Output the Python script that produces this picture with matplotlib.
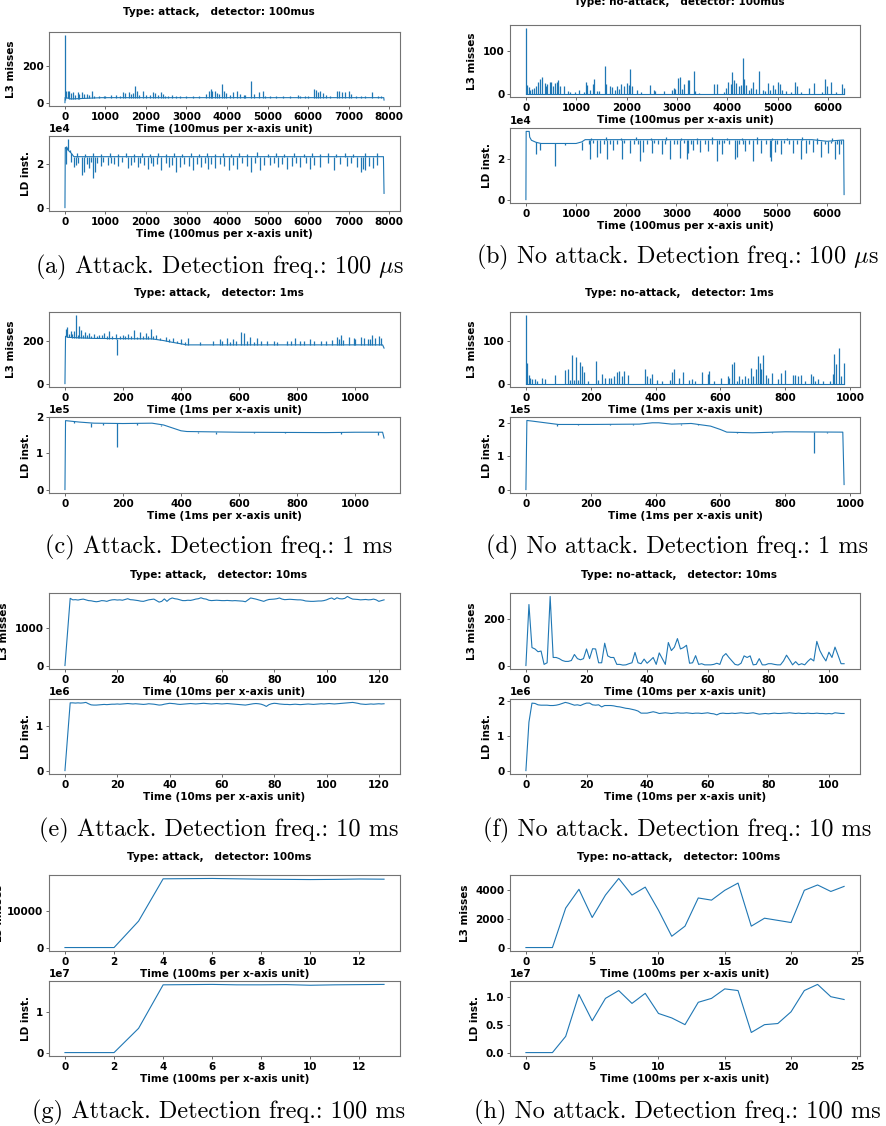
import numpy as np
import matplotlib
matplotlib.use('Agg')
import matplotlib.pyplot as plt

plt.rcParams['font.family'] = 'DejaVu Sans'
plt.rcParams['font.weight'] = 'bold'
plt.rcParams['axes.labelweight'] = 'bold'
plt.rcParams['font.size'] = 7.5
plt.rcParams['mathtext.fontset'] = 'cm'

BLUE = '#1f77b4'
W, H = 886, 1126

# ---------------- data ----------------
# (a) attack, 100mus : baseline breakpoints + spikes
a_l3_base_x = [0, 4, 150, 900, 7870, 7877]
a_l3_base_y = [0, 28, 20, 27, 27, 14]
a_l3_spk_x = [2, 25, 66, 107, 148, 206, 255, 313, 354, 420, 478, 544, 602, 667, 725, 849, 972, 1137,
              1261, 1426, 1491, 1590, 1632, 1673, 1730, 1772, 1821, 1920, 2002, 2184, 2233, 2291, 2373,
              2414, 2480, 2637, 2744, 2991, 3172, 3486, 3551, 3593, 3634, 3692, 3749, 3815, 3873, 3930,
              3980, 4062, 4145, 4252, 4310, 4408, 4598, 4656, 4787, 4886, 5051, 5381, 5751, 5916, 6147,
              6188, 6246, 6304, 6370, 6435, 6534, 6716, 6765, 6847, 6905, 7012, 7070, 7194, 7400, 7589,
              7729, 1000, 1350, 2100, 2550, 2850, 3300, 4450, 4950, 5200, 5550, 5800, 6000, 7300, 7800]
a_l3_spk_y = [365, 65, 61, 61, 53, 56, 44, 60, 49, 60, 47, 47, 44, 63, 35, 35, 35, 39,
              44, 56, 53, 56, 49, 53, 88, 61, 44, 61, 39, 56, 53, 44, 56,
              47, 35, 44, 35, 35, 35, 49, 65, 74, 61, 61, 53, 49, 100, 61,
              53, 44, 56, 63, 47, 44, 118, 47, 56, 61, 35, 35, 44, 35, 75,
              70, 56, 61, 53, 44, 35, 61, 61, 58, 58, 63, 47, 35, 35, 58,
              35, 38, 36, 40, 38, 36, 38, 40, 37, 38, 36, 38, 37, 38, 36]

a_ld_base_x = [0, 8, 150, 220, 7860, 7875]
a_ld_base_y = [0, 27500, 25000, 23300, 23300, 6500]
a_ld_spk_x = [20, 50, 80, 120, 30, 150, 230, 280, 330, 420, 480, 540, 600, 650, 690, 750, 800, 880,
              950, 1050, 1130, 1200, 1300, 1400, 1550, 1620, 1700, 1800, 1850, 1950, 2050, 2130, 2180,
              2260, 2380, 2500, 2580, 2650, 2750, 2850, 2950, 3050, 3150, 3250, 3350, 3450, 3520, 3600,
              3700, 3820, 3920, 4050, 4150, 4250, 4380, 4500, 4600, 4700, 4820, 4900, 5050, 5150, 5250,
              5350, 5480, 5600, 5700, 5800, 5950, 6050, 6150, 6300, 6500, 6650, 6800, 6950, 7050, 7200,
              7300, 7350, 7400, 7500, 7600, 7700,
              300, 500, 700, 900, 1100, 1300, 1500, 1700, 1900, 2100, 2300, 2500, 2700, 2900, 3100, 3300,
              3500, 3700, 3900, 4100, 4300, 4500, 4750, 5000, 5200, 5400, 5650, 5900, 6100, 6300, 6500,
              6700, 6900, 7100, 7400, 7700]
a_ld_spk_y = [28000, 27500, 31200, 26500, 20000, 21000, 18500, 19500, 20500, 15000, 16500, 20000, 18000,
              21000, 13500, 16500, 20500, 19000, 21000, 19500, 20500, 20000, 19000, 21000, 18000, 19500,
              21000, 18500, 20500, 19500, 17500, 20500, 19000, 20000, 17000, 20500, 18500, 19500, 16500,
              18500, 20000, 19000, 17000, 20000, 18500, 20500, 17500, 20000, 18000, 20000, 19000, 17000,
              19500, 17500, 20500, 19000, 16500, 20500, 17000, 19500, 19500, 20500, 18500, 20000, 17500,
              19000, 20500, 18500, 20500, 17500, 19500, 18500, 20500, 17000, 20000, 19000, 20500, 18500,
              16500, 17500, 17000, 19000, 18000, 19500,
              25000, 24600, 24800, 24500, 24800, 24600, 25000, 24700, 24900, 24600, 25000, 24700, 24800,
              24600, 24900, 24700, 24800, 24600, 25000, 24700, 24900, 24600, 25300, 24700, 25000, 24600,
              24900, 24700, 25200, 24600, 25000, 24700, 24800, 24600, 25100, 25000]

# (b) no attack, 100mus
b_l3_base_x = [0, 6320]
b_l3_base_y = [1, 1]
b_l3_spk_x = [0, 20, 53, 86, 119, 152, 199, 239, 285, 318, 371, 398, 424, 471, 497, 530, 583, 617, 643,
              683, 749, 829, 882, 981, 1048, 1160, 1193, 1213, 1280, 1326, 1346, 1412, 1459, 1565, 1591,
              1677, 1711, 1777, 1810, 1843, 1883, 1943, 2009, 2042, 2069, 2108, 2214, 2294, 2460, 2539,
              2572, 2738, 2904, 2937, 2970, 3023, 3056, 3103, 3136, 3222, 3249, 3335, 3368, 3434, 3733,
              3786, 3932, 3978, 4005, 4064, 4097, 4130, 4177, 4230, 4263, 4303, 4329, 4376, 4429, 4462,
              4502, 4561, 4627, 4707, 4747, 4807, 4840, 4906, 4946, 5006, 5039, 5092, 5171, 5258, 5344,
              5390, 5456, 5622, 5722, 5887, 5940, 5987, 6066, 6166, 6272, 6318]
b_l3_spk_y = [152, 22, 16, 10, 12, 14, 18, 27, 35, 40, 26, 18, 24, 29, 29, 19, 26, 29, 32,
              19, 18, 7, 4, 4, 9, 4, 29, 20, 10, 24, 34, 7, 7, 65, 24,
              18, 16, 9, 19, 12, 24, 19, 25, 21, 57, 19, 10, 4, 21, 10,
              7, 7, 10, 14, 12, 38, 40, 12, 24, 32, 32, 54, 7, 3, 23,
              23, 4, 14, 29, 24, 51, 32, 25, 18, 21, 84, 35, 20, 10, 14,
              29, 12, 53, 10, 7, 25, 10, 20, 12, 29, 24, 10, 7, 4, 29,
              18, 4, 14, 26, 4, 35, 19, 29, 4, 23, 14]

b_ld_base_x = [0, 5, 66, 75, 110, 200, 300, 1000, 1114, 1180, 5700, 6000, 6300, 6330, 6340]
b_ld_base_y = [0, 33900, 33900, 31100, 29500, 28500, 27900, 27900, 28700, 29800, 29800, 29000, 29600,
               29600, 2500]
b_ld_spk_x = [199, 285, 570, 782, 1114, 1280, 1412, 1479, 1611, 1744, 1909, 2075, 2274, 2340, 2506, 2705,
              2871, 3070, 3202, 3235, 3335, 3467, 3633, 3799, 3898, 4164, 4197, 4363, 4528, 4694, 4860,
              4893, 4959, 5092, 5324, 5490, 5589, 5722, 5887, 6020, 6153, 6232,
              1250, 1330, 1550, 1680, 1820, 1960, 2150, 2230, 2410, 2560, 2640, 2780, 2950, 3010, 3150,
              3290, 3400, 3560, 3700, 3850, 3950, 4050, 4250, 4320, 4450, 4600, 4780, 5000, 5150, 5250,
              5400, 5650, 5800, 5950, 6080, 6200, 6280,
              1300, 1600, 1900, 2200, 2500, 2800, 3100, 3400, 3700, 4000, 4300, 4600, 4900, 5200, 5500,
              5800, 6100]
b_ld_spk_y = [22500, 24600, 16900, 27000, 24600, 20200, 21300, 23000, 20200, 24600, 20200, 23000, 19200,
              23800, 23000, 22500, 20200, 20500, 20200, 23000, 24600, 23800, 24100, 19200, 22500, 20200,
              21300, 24100, 19200, 23000, 21300, 19200, 23800, 22500, 23000, 20200, 23000, 23800, 21300,
              23000, 20200, 22500,
              27600, 28000, 27500, 27800, 27400, 27900, 27600, 27800, 27500, 27900, 27600, 27400, 27800,
              27500, 27900, 27600, 27800, 27400, 27700, 27500, 27900, 27600, 27800, 27500, 27400, 27800,
              27600, 27500, 27900, 27400, 27700, 27600, 27800, 27500, 27900, 27600, 27700,
              30800, 30900, 30700, 30900, 30800, 30900, 30700, 30800, 30900, 30700, 30800, 30900, 30700,
              30800, 30900, 30700, 30800]

# (c) attack, 1ms
c_l3_base_x = [0, 2, 10, 100, 300, 340, 370, 400, 420, 1095, 1100]
c_l3_base_y = [0, 220, 215, 210, 208, 200, 192, 185, 180, 180, 165]
c_l3_spk_x = [2, 8, 20, 31, 39, 49, 57, 69, 83, 100, 118, 135, 153, 176, 178, 199, 216, 238, 257, 280,
              297, 314, 349, 372, 401, 424, 465, 511, 534, 557, 580, 608, 617, 638, 661, 696, 731, 765,
              794, 823, 846, 881, 939, 953, 979, 996, 1020, 1043, 1060, 1083,
              14, 26, 44, 62, 76, 90, 109, 126, 144, 162, 189, 207, 226, 247, 268, 288, 305, 326, 360,
              385, 415, 540, 570, 590, 626, 650, 675, 720, 780, 810, 860, 900, 920, 945, 960, 1000,
              1030, 1050, 1070, 1090]
c_l3_spk_y = [255, 265, 245, 245, 317, 270, 250, 240, 235, 230, 225, 235, 245, 230, 135, 225, 230, 250,
              240, 235, 252, 225, 215, 210, 205, 210, 195, 200, 205, 210, 205, 240, 235, 215, 210, 200,
              195, 200, 210, 200, 205, 200, 215, 225, 215, 210, 215, 205, 225, 220,
              230, 232, 228, 226, 228, 222, 220, 224, 221, 219, 220, 222, 223, 218, 220, 219, 223, 214,
              205, 200, 192, 196, 195, 197, 200, 195, 198, 200, 196, 198, 196, 200, 202, 205, 203, 208,
              210, 206, 212, 214]

c_ld_base_x = [0, 2, 50, 100, 200, 300, 340, 370, 400, 420, 600, 900, 1000, 1095, 1100]
c_ld_base_y = [0, 190000, 186000, 183000, 182000, 183000, 178000, 170000, 162000, 160000, 158000,
               157000, 158000, 158000, 142000]
c_ld_spk_x = [178, 90, 520, 950, 1080, 30, 130, 250, 330, 460, 650, 760, 850]
c_ld_spk_y = [117000, 172000, 154000, 154000, 150000, 183000, 178000, 178000, 174000, 156000, 155000,
              155000, 155000]

# (d) no attack, 1ms
d_l3_base_x = [0, 982]
d_l3_base_y = [1, 1]
d_l3_spk_x = [0, 4, 8, 13, 19, 27, 34, 49, 60, 90, 121, 129, 137, 143, 148, 154, 160, 168, 173, 178,
              193, 216, 222, 234, 245, 255, 263, 273, 281, 288, 298, 303, 315, 368, 373, 383, 389, 404,
              419, 445, 452, 456, 471, 486, 502, 512, 522, 543, 561, 566, 579, 602, 623, 628, 637, 641,
              651, 658, 666, 676, 686, 695, 702, 709, 717, 722, 726, 733, 740, 748, 759, 779, 786, 800,
              825, 831, 841, 849, 862, 880, 885, 892, 903, 918, 939, 949, 952, 956, 966, 972, 981]
d_l3_spk_y = [160, 50, 22, 14, 12, 12, 8, 13, 12, 22, 33, 35, 10, 68, 10, 62, 10, 52, 42, 29,
              8, 54, 10, 23, 14, 15, 15, 19, 29, 31, 18, 31, 21, 36, 18, 13, 23, 10,
              6, 10, 28, 35, 14, 27, 10, 12, 8, 28, 23, 31, 8, 14, 19, 15, 47, 52,
              8, 19, 12, 19, 13, 37, 19, 35, 65, 48, 35, 67, 21, 14, 25, 12, 25, 32,
              21, 22, 18, 22, 8, 23, 19, 8, 12, 6, 6, 23, 70, 46, 85, 18, 50]

d_ld_base_x = [0, 3, 20, 100, 200, 350, 390, 410, 450, 510, 570, 600, 620, 700, 800, 978, 982]
d_ld_base_y = [0, 207000, 205000, 195000, 195000, 196000, 200000, 200000, 196000, 198000, 190000,
               180000, 172000, 170000, 173000, 172000, 15000]
d_ld_spk_x = [890, 95, 40, 160, 260, 330, 480, 530, 650, 760, 840, 930]
d_ld_spk_y = [108000, 190000, 201000, 193000, 194000, 192000, 194000, 194000, 168000, 169000, 171000,
              170000]

# (e) attack, 10ms  (one value per x unit)
e_l3 = [0, 890, 1780, 1740, 1745, 1735, 1750, 1760, 1740, 1720, 1715, 1700, 1690, 1700, 1720, 1715,
        1700, 1725, 1740, 1745, 1735, 1740, 1730, 1750, 1770, 1745, 1740, 1730, 1720, 1705, 1700, 1720,
        1740, 1750, 1760, 1720, 1680, 1700, 1765, 1700, 1760, 1790, 1770, 1760, 1740, 1720, 1720, 1730,
        1725, 1740, 1760, 1770, 1795, 1770, 1760, 1730, 1720, 1725, 1730, 1725, 1720, 1720, 1725, 1720,
        1715, 1720, 1715, 1710, 1705, 1690, 1740, 1790, 1775, 1760, 1740, 1720, 1700, 1730, 1750, 1755,
        1760, 1770, 1790, 1760, 1745, 1750, 1755, 1750, 1745, 1740, 1740, 1730, 1710, 1705, 1700, 1700,
        1705, 1710, 1710, 1720, 1740, 1770, 1790, 1750, 1795, 1770, 1765, 1780, 1830, 1790, 1760, 1755,
        1750, 1740, 1745, 1750, 1740, 1745, 1760, 1740, 1700, 1720, 1740]
e_ld_k = [0, 760, 1520, 1520, 1515, 1520, 1515, 1520, 1530, 1500, 1475, 1470, 1470, 1475, 1480, 1485,
          1480, 1485, 1490, 1490, 1495, 1490, 1495, 1500, 1505, 1500, 1495, 1500, 1495, 1490, 1485, 1490,
          1500, 1495, 1490, 1480, 1470, 1475, 1490, 1500, 1510, 1505, 1500, 1490, 1485, 1490, 1495, 1500,
          1505, 1500, 1495, 1500, 1505, 1510, 1505, 1500, 1495, 1500, 1505, 1500, 1495, 1500, 1505, 1500,
          1495, 1490, 1485, 1480, 1475, 1470, 1480, 1490, 1500, 1505, 1500, 1490, 1470, 1440, 1480, 1500,
          1510, 1505, 1495, 1490, 1485, 1485, 1480, 1485, 1490, 1485, 1480, 1485, 1490, 1495, 1490, 1485,
          1490, 1495, 1500, 1495, 1500, 1505, 1500, 1495, 1500, 1505, 1510, 1515, 1520, 1525, 1530, 1520,
          1510, 1495, 1490, 1485, 1490, 1495, 1490, 1495, 1500, 1495, 1500]

# (f) no attack, 10ms
f_l3 = [0, 265, 78, 72, 60, 63, 5, 12, 300, 35, 35, 30, 22, 18, 18, 22, 48, 30, 25, 30, 72, 30, 73,
        72, 12, 12, 97, 42, 35, 35, 5, 5, 2, 3, 8, 12, 57, 12, 8, 28, 10, 22, 35, 5, 55, 30, 5, 100,
        65, 80, 117, 72, 78, 88, 10, 12, 43, 5, 8, 3, 3, 3, 5, 10, 5, 40, 52, 35, 20, 5, 2, 10, 42, 35,
        42, 3, 5, 30, 3, 3, 8, 8, 5, 3, 3, 20, 45, 25, 3, 17, 3, 8, 3, 18, 30, 20, 105, 65, 40, 20, 58,
        35, 80, 45, 8, 8]
f_ld_m = [0, 1.40, 1.95, 1.94, 1.90, 1.89, 1.89, 1.89, 1.88, 1.88, 1.89, 1.91, 1.94, 1.97, 1.95, 1.92,
          1.89, 1.90, 1.88, 1.92, 1.95, 1.95, 1.90, 1.89, 1.90, 1.84, 1.88, 1.88, 1.88, 1.87, 1.85, 1.84,
          1.82, 1.80, 1.79, 1.77, 1.75, 1.72, 1.66, 1.66, 1.66, 1.68, 1.70, 1.68, 1.65, 1.66, 1.67, 1.66,
          1.65, 1.66, 1.67, 1.66, 1.66, 1.67, 1.66, 1.65, 1.66, 1.66, 1.65, 1.66, 1.67, 1.65, 1.64, 1.61,
          1.65, 1.66, 1.65, 1.65, 1.66, 1.65, 1.66, 1.67, 1.66, 1.65, 1.66, 1.67, 1.65, 1.63, 1.64, 1.65,
          1.64, 1.65, 1.66, 1.65, 1.65, 1.66, 1.66, 1.67, 1.66, 1.65, 1.66, 1.65, 1.65, 1.66, 1.65, 1.65,
          1.66, 1.65, 1.65, 1.64, 1.65, 1.64, 1.67, 1.66, 1.65, 1.65]

# (g) attack, 100ms
g_l3 = [100, 100, 100, 7300, 18800, 18850, 18900, 18800, 18700, 18650, 18600, 18650, 18750, 18700]
g_ld_m = [0.02, 0.02, 0.02, 0.60, 1.64, 1.645, 1.65, 1.64, 1.64, 1.645, 1.63, 1.64, 1.645, 1.65]

# (h) no attack, 100ms
h_l3 = [20, 20, 20, 2750, 4050, 2100, 3650, 4800, 3650, 4200, 2600, 800, 1500, 3450, 3300, 3980,
        4480, 1500, 2050, 1900, 1750, 3980, 4350, 3900, 4250]
h_ld_m = [0.01, 0.01, 0.01, 0.30, 1.05, 0.58, 0.98, 1.12, 0.89, 1.07, 0.71, 0.63, 0.51, 0.91, 0.98,
          1.15, 1.12, 0.37, 0.51, 0.53, 0.74, 1.12, 1.23, 1.01, 0.96]

# ---------------- layout helpers ----------------
fig = plt.figure(figsize=(W / 100, H / 100), dpi=100)


def box(l, t, r, b):
    return [l / W, 1 - b / H, (r - l) / W, (b - t) / H]


def style(ax, unit, ylabel, xticks, yticks, sci=False, ypad=4):
    for s in ax.spines.values():
        s.set_color('0.45')
        s.set_linewidth(0.8)
    ax.tick_params(length=2, width=0.6, pad=2, labelsize=7.5, color='0.3')
    ax.set_xticks(xticks)
    ax.set_yticks(yticks)
    ax.set_xlabel('Time (%s per x-axis unit)' % unit, labelpad=1.5)
    ax.set_ylabel(ylabel, labelpad=ypad)
    if sci:
        ax.ticklabel_format(axis='y', style='sci', scilimits=(0, 0))


def dense(ax, bx, by, sx, sy):
    ax.plot(bx, by, color=BLUE, lw=0.8)
    foot = np.interp(sx, bx, by)
    ax.vlines(sx, foot, sy, color=BLUE, lw=0.9)


def simple(ax, y, scale=1.0):
    y = np.asarray(y, dtype=float) * scale
    ax.plot(np.arange(len(y)), y, color=BLUE, lw=0.8)


# column: (axes left, axes right, text center)
LEFT = (49, 400, 219)
RIGHT = (510, 860, 677)

panels = [
    # col, title_y, top axes (t,b), bottom axes (t,b), caption_y, kind, unit, caption
    (LEFT, 12, (32, 106), (136, 211), 267, 'attack', '100mus', '(a) Attack. Detection freq.: 100 $\\mu$s'),
    (RIGHT, 2, (25, 97), (128, 203), 257, 'no-attack', '100mus', '(b) No attack. Detection freq.: 100 $\\mu$s'),
    (LEFT, 293, (312, 387), (417, 493), 547, 'attack', '1ms', '(c) Attack. Detection freq.: 1 ms'),
    (RIGHT, 293, (312, 387), (417, 493), 547, 'no-attack', '1ms', '(d) No attack. Detection freq.: 1 ms'),
    (LEFT, 575, (593, 669), (699, 774), 830, 'attack', '10ms', '(e) Attack. Detection freq.: 10 ms'),
    (RIGHT, 575, (593, 669), (699, 774), 830, 'no-attack', '10ms', '(f) No attack. Detection freq.: 10 ms'),
    (LEFT, 857, (875, 951), (981, 1056), 1112, 'attack', '100ms', '(g) Attack. Detection freq.: 100 ms'),
    (RIGHT, 857, (875, 951), (981, 1056), 1112, 'no-attack', '100ms', '(h) No attack. Detection freq.: 100 ms'),
]

axes = []
for col, ty, tb, bb, cy, kind, unit, cap in panels:
    l, r, cx = col
    ax1 = fig.add_axes(box(l, tb[0], r, tb[1]))
    ax2 = fig.add_axes(box(l, bb[0], r, bb[1]))
    axes.append((ax1, ax2, unit))
    fig.text((cx + 2) / W if col is RIGHT else cx / W, 1 - ty / H,
             'Type: %s,   detector: %s' % (kind, unit),
             ha='center', va='center', fontsize=7.5, fontweight='bold')
    fig.text(cx / W, 1 - cy / H, cap, ha='center', va='center', fontsize=17.5,
             family='cmr10', fontweight='normal')

# (a)
ax1, ax2, u = axes[0]
dense(ax1, a_l3_base_x, a_l3_base_y, a_l3_spk_x, a_l3_spk_y)
dense(ax2, a_ld_base_x, a_ld_base_y, a_ld_spk_x, a_ld_spk_y)
style(ax1, u, 'L3 misses', range(0, 8001, 1000), [0, 200])
style(ax2, u, 'LD inst.', range(0, 8001, 1000), [0, 20000], sci=True)

# (b)
ax1, ax2, u = axes[1]
dense(ax1, b_l3_base_x, b_l3_base_y, b_l3_spk_x, b_l3_spk_y)
dense(ax2, b_ld_base_x, b_ld_base_y, b_ld_spk_x, b_ld_spk_y)
style(ax1, u, 'L3 misses', range(0, 6001, 1000), [0, 100])
style(ax2, u, 'LD inst.', range(0, 6001, 1000), [0, 20000], sci=True)

# (c)
ax1, ax2, u = axes[2]
dense(ax1, c_l3_base_x, c_l3_base_y, c_l3_spk_x, c_l3_spk_y)
dense(ax2, c_ld_base_x, c_ld_base_y, c_ld_spk_x, c_ld_spk_y)
style(ax1, u, 'L3 misses', range(0, 1001, 200), [0, 200])
style(ax2, u, 'LD inst.', range(0, 1001, 200), [0, 100000, 200000], sci=True)

# (d)
ax1, ax2, u = axes[3]
dense(ax1, d_l3_base_x, d_l3_base_y, d_l3_spk_x, d_l3_spk_y)
dense(ax2, d_ld_base_x, d_ld_base_y, d_ld_spk_x, d_ld_spk_y)
style(ax1, u, 'L3 misses', range(0, 1001, 200), [0, 100])
style(ax2, u, 'LD inst.', range(0, 1001, 200), [0, 100000, 200000], sci=True)

# (e)
ax1, ax2, u = axes[4]
simple(ax1, e_l3)
simple(ax2, e_ld_k, 1e3)
style(ax1, u, 'L3 misses', range(0, 121, 20), [0, 1000])
style(ax2, u, 'LD inst.', range(0, 121, 20), [0, 1000000], sci=True)

# (f)
ax1, ax2, u = axes[5]
simple(ax1, f_l3)
simple(ax2, f_ld_m, 1e6)
style(ax1, u, 'L3 misses', range(0, 101, 20), [0, 200])
style(ax2, u, 'LD inst.', range(0, 101, 20), [0, 1000000, 2000000], sci=True)

# (g)
ax1, ax2, u = axes[6]
simple(ax1, g_l3)
simple(ax2, g_ld_m, 1e7)
style(ax1, u, 'L3 misses', range(0, 13, 2), [0, 10000], ypad=2)
style(ax2, u, 'LD inst.', range(0, 13, 2), [0, 10000000], sci=True)

# (h)
ax1, ax2, u = axes[7]
simple(ax1, h_l3)
simple(ax2, h_ld_m, 1e7)
style(ax1, u, 'L3 misses', range(0, 26, 5), [0, 2000, 4000])
style(ax2, u, 'LD inst.', range(0, 26, 5), [0, 5000000, 10000000], sci=True)

fig.savefig('out.png', dpi=100)
